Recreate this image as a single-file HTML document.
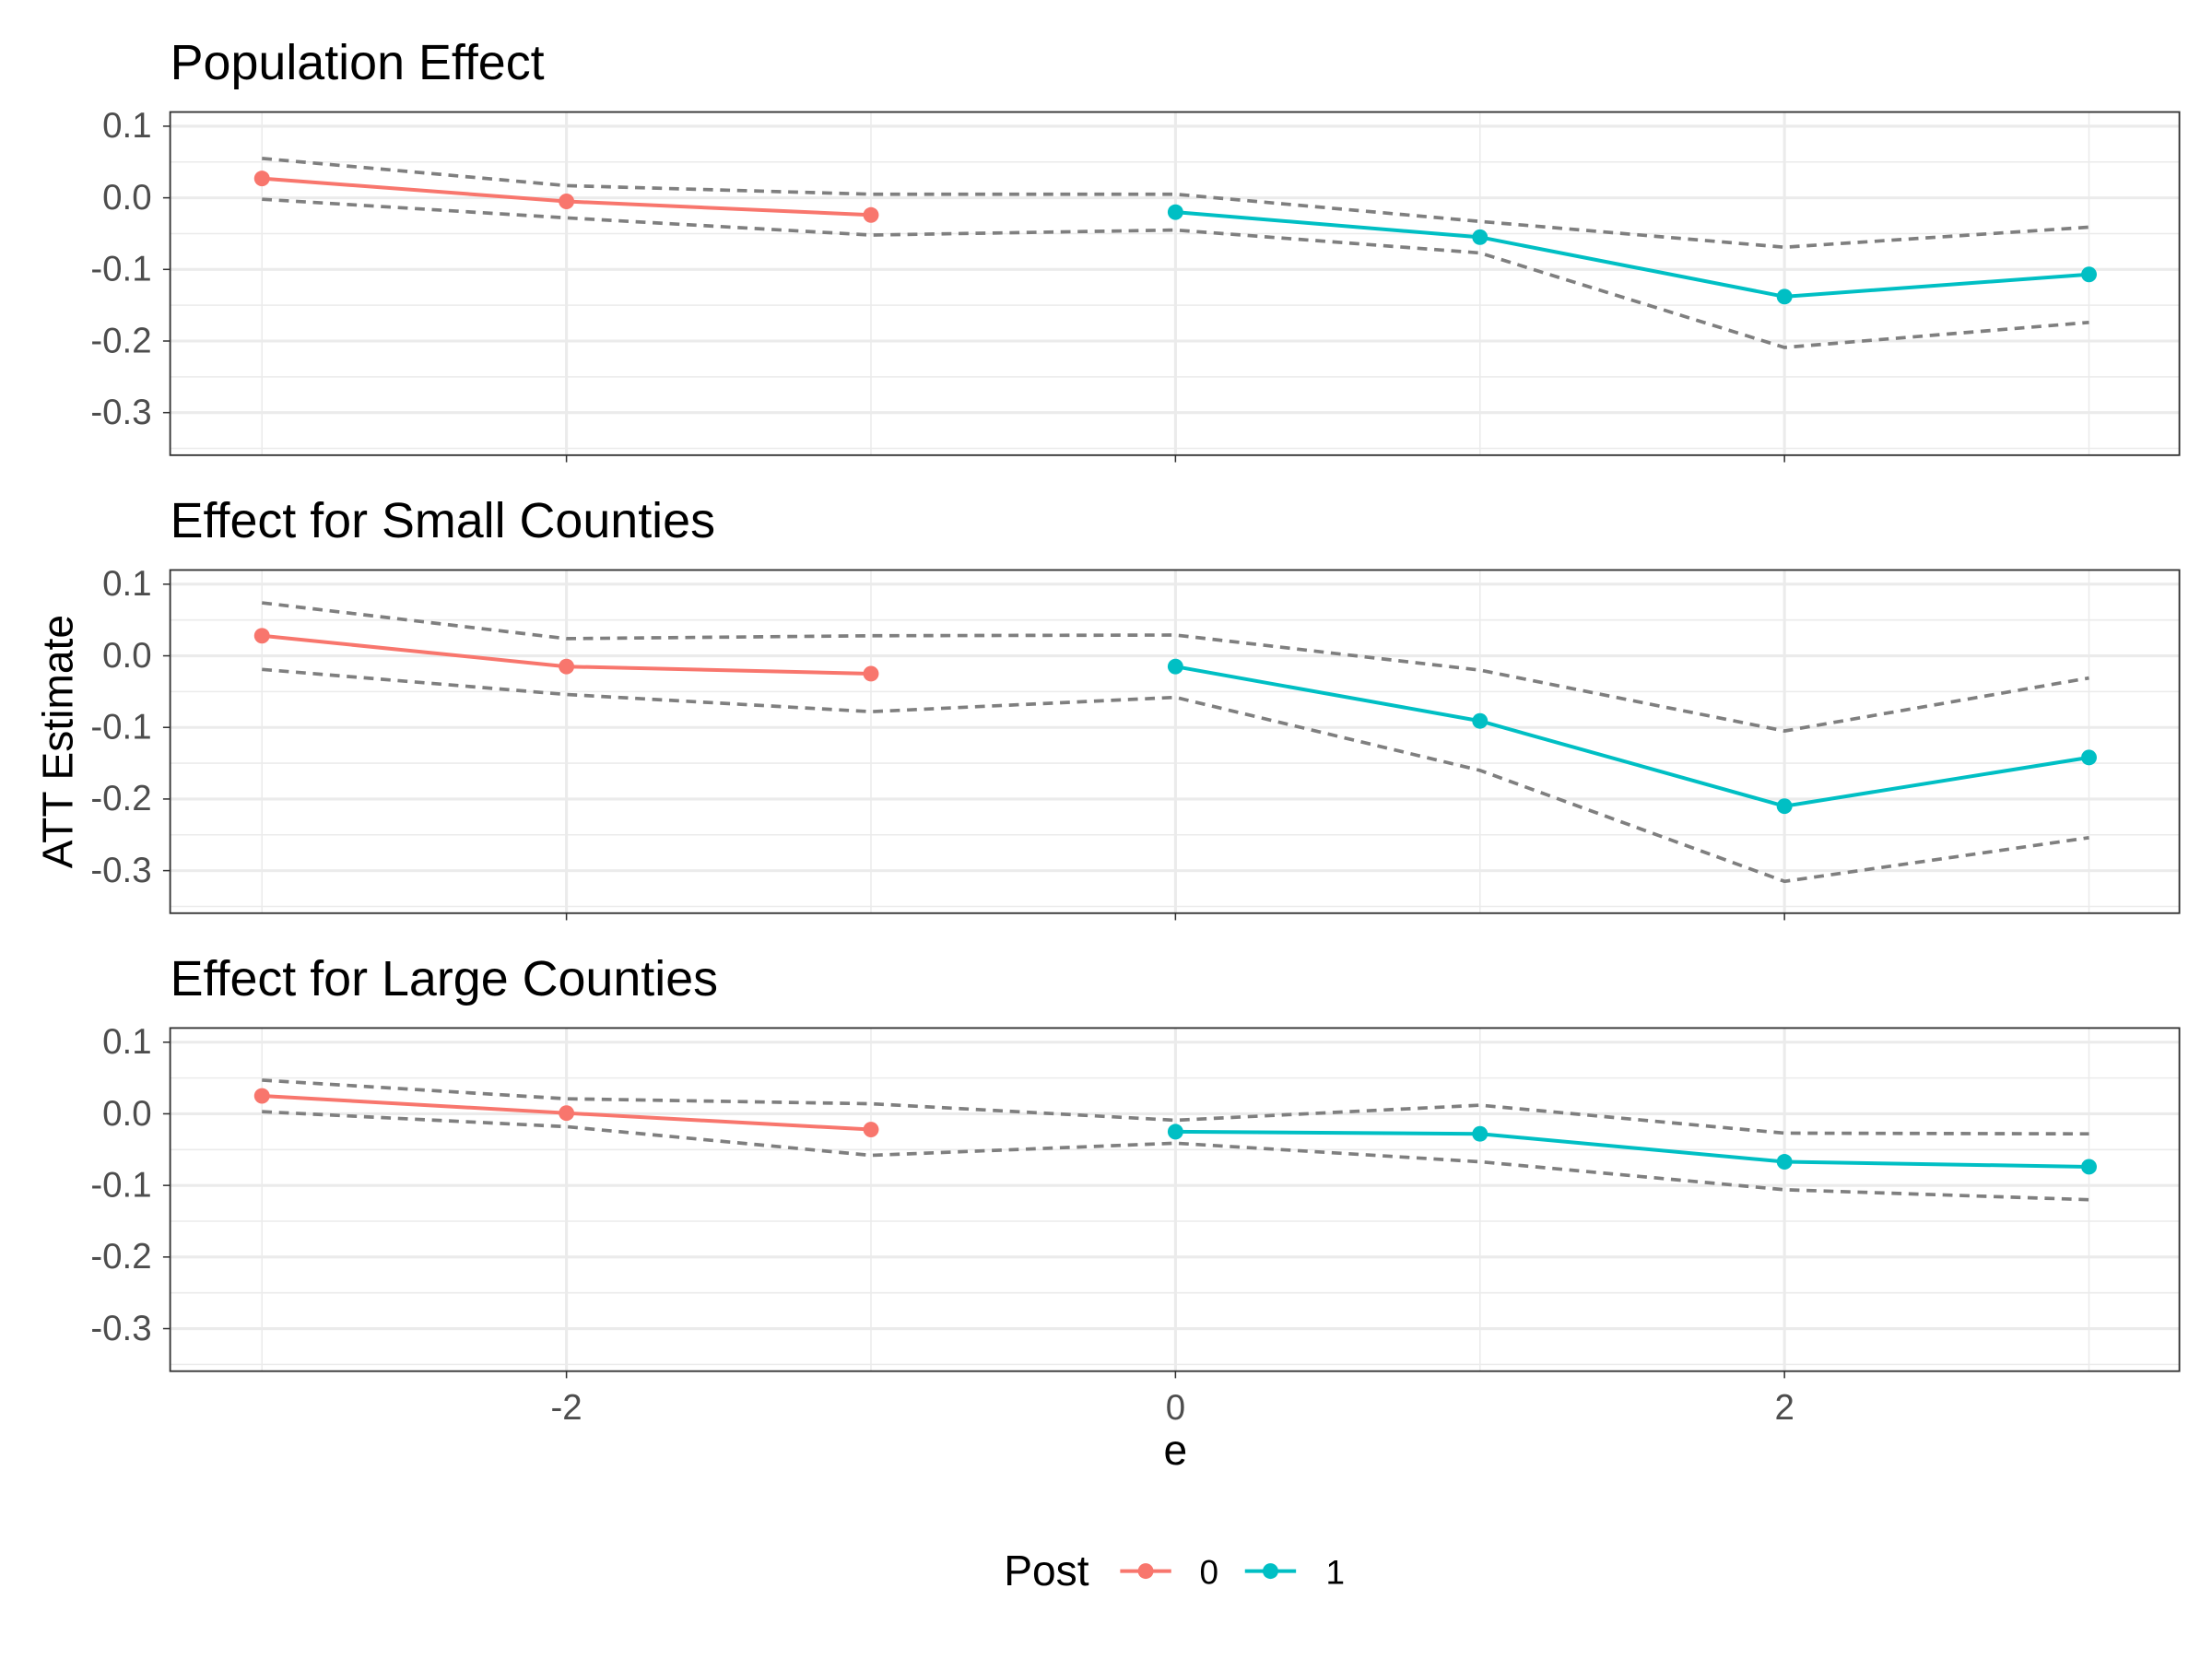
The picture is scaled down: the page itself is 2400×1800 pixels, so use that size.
<!DOCTYPE html>
<html><head><meta charset="utf-8"><style>
html,body{margin:0;padding:0;background:#fff;}
svg{display:block;font-family:"Liberation Sans",Arial,sans-serif;}
</style></head><body>
<svg id="chart" width="2400" height="1800" viewBox="0 0 1560 1170" xmlns="http://www.w3.org/2000/svg"></svg>
<script>
const panelTitles = ["Population Effect","Effect for Small Counties","Effect for Large Counties"];
const eValues = [-3,-2,-1,0,1,2,3];
const postGroup = [0,0,0,1,1,1,1];
const est1 = [0.027,-0.005,-0.024,-0.020,-0.055,-0.138,-0.107];
const upper1 = [0.055,0.017,0.005,0.005,-0.033,-0.069,-0.041];
const lower1 = [-0.002,-0.028,-0.052,-0.045,-0.077,-0.209,-0.174];
const est2 = [0.028,-0.015,-0.025,-0.015,-0.091,-0.210,-0.142];
const upper2 = [0.074,0.024,0.028,0.029,-0.020,-0.105,-0.031];
const lower2 = [-0.019,-0.054,-0.078,-0.058,-0.160,-0.315,-0.254];
const est3 = [0.025,0.001,-0.022,-0.025,-0.028,-0.067,-0.074];
const upper3 = [0.047,0.021,0.014,-0.009,0.012,-0.027,-0.028];
const lower3 = [0.003,-0.018,-0.058,-0.041,-0.067,-0.106,-0.120];
const yTicks = [0.1,0.0,-0.1,-0.2,-0.3];
const yTickLabels = ["0.1","0.0","-0.1","-0.2","-0.3"];
const yMinor = [0.05,-0.05,-0.15,-0.25,-0.35];
const xTicks = [-2,0,2];
const xTickLabels = ["-2","0","2"];
const xMinor = [-3,-1,1,3];

const ests=[est1,est2,est3], ups=[upper1,upper2,upper3], lows=[lower1,lower2,lower3];
const svg=document.getElementById('chart');
const NS='http://www.w3.org/2000/svg';
const colors=['#F8766D','#00BFC4'];
function mk(tag,attrs,parent){const e=document.createElementNS(NS,tag);for(const k in attrs)e.setAttribute(k,attrs[k]);(parent||svg).appendChild(e);return e;}
const L=120,R=1537,PH=242;
const tops=[79,402,725];
const x=v=>829+(v)*214.75;
function yf(top){const y0=top+60.5;return v=>y0-v*505;}

tops.forEach((top,p)=>{
  const y=yf(top);
  const g=mk('g',{});
  
  
  const t=mk('text',{x:120,y:top-23,'font-size':35,fill:'#000'},g);t.textContent=panelTitles[p];
  
  yMinor.forEach(v=>mk('line',{x1:L,x2:R,y1:y(v),y2:y(v),stroke:'#ebebeb','stroke-width':1},g));
  xMinor.forEach(v=>mk('line',{x1:x(v),x2:x(v),y1:top,y2:top+PH,stroke:'#ebebeb','stroke-width':1},g));
  yTicks.forEach((v,i)=>{
    mk('line',{x1:L,x2:R,y1:y(v),y2:y(v),stroke:'#ebebeb','stroke-width':2},g);
    mk('line',{x1:L-5,x2:L,y1:y(v),y2:y(v),stroke:'#333','stroke-width':1},g);
    const tl=mk('text',{x:L-13,y:y(v)+8,'font-size':25,fill:'#4d4d4d','text-anchor':'end'},g);tl.textContent=yTickLabels[i];
    
  });
  xTicks.forEach((v,i)=>{
    mk('line',{x1:x(v),x2:x(v),y1:top,y2:top+PH,stroke:'#ebebeb','stroke-width':2},g);
    mk('line',{x1:x(v),x2:x(v),y1:top+PH,y2:top+PH+5,stroke:'#333','stroke-width':1},g);
    if(p===2){const tl=mk('text',{x:x(v),y:top+PH+34,'font-size':25,fill:'#4d4d4d','text-anchor':'middle'},g);tl.textContent=xTickLabels[i];
      }
  });
  [ups[p],lows[p]].forEach((arr,k)=>{
    const pl=mk('polyline',{points:arr.map((v,i)=>x(eValues[i])+','+y(v)).join(' '),fill:'none',stroke:'#7f7f7f','stroke-width':2.4,'stroke-dasharray':'7,5'},g);
    
  });
  [0,1].forEach(grp=>{
    const idx=eValues.map((_,i)=>i).filter(i=>postGroup[i]===grp);
    const pl=mk('polyline',{points:idx.map(i=>x(eValues[i])+','+y(ests[p][i])).join(' '),fill:'none',stroke:colors[grp],'stroke-width':2.6},g);
    
    idx.forEach(i=>{const c=mk('circle',{cx:x(eValues[i]),cy:y(ests[p][i]),r:5.5,fill:colors[grp]},g);
      });
  });
  mk('rect',{x:L,y:top,width:R-L,height:PH,fill:'none',stroke:'#333','stroke-width':1.2},g);
});
let t=mk('text',{x:829,y:1033,'font-size':30,'text-anchor':'middle'});t.textContent='e';

t=mk('text',{x:0,y:0,'font-size':30,'text-anchor':'middle',transform:'translate(51,523) rotate(-90)'});t.textContent='ATT Estimate';

const lg=mk('g',{});
t=mk('text',{x:708,y:1118,'font-size':30},lg);t.textContent='Post';
[[790,'0',846],[878,'1',935]].forEach((d,i)=>{
  const e=mk('g',{},lg);
  mk('line',{x1:d[0],x2:d[0]+36,y1:1108,y2:1108,stroke:colors[i],'stroke-width':2.6},e);
  mk('circle',{cx:d[0]+18,cy:1108,r:5.5,fill:colors[i]},e);
  const tt=mk('text',{x:d[2],y:1117,'font-size':24},e);tt.textContent=d[1];
});
</script>
</body></html>
